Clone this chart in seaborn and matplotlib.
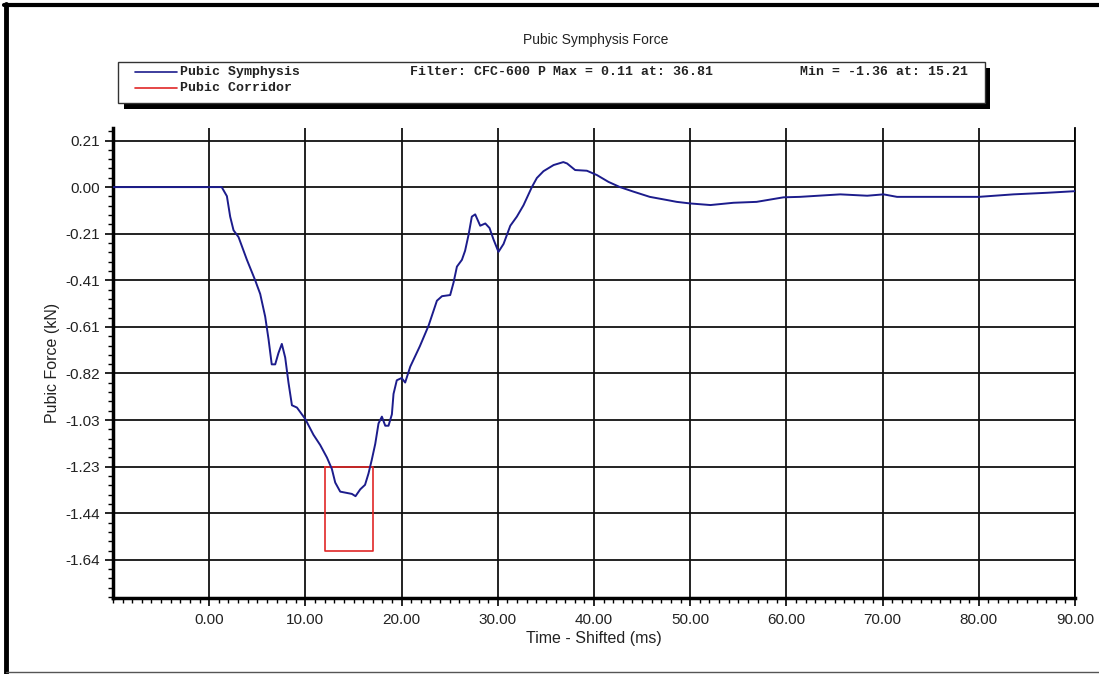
import numpy as np
import pandas as pd
import matplotlib
matplotlib.use('Agg')
import matplotlib.pyplot as plt
from matplotlib.lines import Line2D
from matplotlib.patches import Rectangle
from matplotlib.ticker import MultipleLocator, FixedLocator
import seaborn as sns

# data
time_ms = [-10, 1.3, 1.84, 2.18, 2.53, 3.05, 3.92, 4.78, 5.3, 5.82, 6.17, 6.5, 6.86, 7.2,
           7.55, 7.9, 8.24, 8.6, 9.12, 9.98, 10.84, 11.54, 12.24, 12.75, 13.1, 13.62,
           14.83, 15.21, 15.7, 16.2, 16.56, 16.9, 17.26, 17.6, 17.95, 18.3, 18.64, 18.99,
           19.16, 19.5, 20.0, 20.37, 20.9, 21.9, 22.8, 23.67, 24.2, 25.05, 25.4, 25.75,
           26.27, 26.6, 26.96, 27.3, 27.65, 28.17, 28.7, 29.14, 29.55, 30.07, 30.6, 31.3,
           31.98, 32.67, 33.54, 34.06, 34.75, 35.8, 36.81, 37.2, 38.04, 39.26, 40.3, 41.5,
           42.7, 44.1, 45.8, 47.6, 48.6, 50.0, 52.1, 54.5, 56.9, 59.7, 61.4, 65.6, 68.4,
           70.1, 71.5, 80.0, 83.6, 87.1, 90.0]
force_kN = [0, 0, -0.04, -0.13, -0.19, -0.22, -0.32, -0.41, -0.47, -0.57, -0.67, -0.78,
            -0.78, -0.73, -0.69, -0.75, -0.86, -0.96, -0.97, -1.02, -1.09, -1.135, -1.19,
            -1.24, -1.30, -1.34, -1.35, -1.36, -1.33, -1.31, -1.26, -1.20, -1.13, -1.04,
            -1.01, -1.05, -1.05, -1.00, -0.91, -0.85, -0.84, -0.86, -0.79, -0.70, -0.61,
            -0.50, -0.48, -0.475, -0.42, -0.35, -0.32, -0.28, -0.21, -0.13, -0.12, -0.17,
            -0.16, -0.18, -0.23, -0.285, -0.25, -0.17, -0.13, -0.08, 0.0, 0.04, 0.07,
            0.097, 0.11, 0.104, 0.075, 0.072, 0.053, 0.023, 0.0, -0.02, -0.043, -0.057,
            -0.065, -0.072, -0.079, -0.069, -0.065, -0.045, -0.043, -0.032, -0.038,
            -0.032, -0.043, -0.043, -0.032, -0.025, -0.018]

# pubic corridor box
corridor_t = [12.0, 17.0, 17.0, 12.0, 12.0]
corridor_f = [-1.23, -1.23, -1.60, -1.60, -1.23]

x_ticks = [0, 10, 20, 30, 40, 50, 60, 70, 80, 90]
x_labels = ['0.00', '10.00', '20.00', '30.00', '40.00', '50.00', '60.00', '70.00', '80.00', '90.00']
y_ticks = [0.205, 0.0, -0.205, -0.41, -0.615, -0.82, -1.025, -1.23, -1.435, -1.64]
y_labels = ['0.21', '0.00', '-0.21', '-0.41', '-0.61', '-0.82', '-1.03', '-1.23', '-1.44', '-1.64']

sns.set_style('white')
plt.rcParams['font.family'] = ['Liberation Sans', 'DejaVu Sans']

W, H = 1099, 674
fig = plt.figure(figsize=(W / 100, H / 100), dpi=100)
ax = fig.add_axes([113 / W, 1 - 598 / H, (1075 - 113) / W, (598 - 128) / H])

curve = pd.DataFrame({'t': time_ms, 'f': force_kN})
box = pd.DataFrame({'t': corridor_t, 'f': corridor_f})
sns.lineplot(data=curve, x='t', y='f', sort=False, estimator=None, color='#1c1c8c',
             linewidth=1.4, ax=ax, zorder=4)
sns.lineplot(data=box, x='t', y='f', sort=False, estimator=None, color='#e02828',
             linewidth=1.2, ax=ax, zorder=3)

ax.set_xlim(-10, 90)
ax.set_ylim(-1.808, 0.26)
ax.xaxis.set_major_locator(FixedLocator(x_ticks))
ax.set_xticklabels(x_labels)
ax.xaxis.set_minor_locator(MultipleLocator(1))
ax.yaxis.set_major_locator(FixedLocator(y_ticks))
ax.set_yticklabels(y_labels)
ax.yaxis.set_minor_locator(MultipleLocator(0.041))
ax.tick_params(axis='both', which='major', direction='out', length=6, width=1.2,
               labelsize=11, color='black', labelcolor='#222222',
               bottom=True, left=True)
ax.tick_params(axis='both', which='minor', direction='out', length=3.5, width=1.0,
               color='black', bottom=True, left=True)
ax.tick_params(axis='x', which='major', pad=5)
ax.grid(True, which='major', color='#111111', linewidth=1.3)
ax.spines['top'].set_visible(False)
ax.spines['left'].set_linewidth(2.5)
ax.spines['bottom'].set_linewidth(2.5)
ax.spines['right'].set_linewidth(1.3)
for s in ['left', 'bottom', 'right']:
    ax.spines[s].set_color('black')

ax.set_xlabel('Time - Shifted (ms)', fontsize=11.5, color='#222222', labelpad=3)
ax.set_ylabel('Pubic Force (kN)', fontsize=11.5, color='#222222', labelpad=4)

# title
fig.text(596 / W, 1 - 40 / H, 'Pubic Symphysis Force', ha='center', va='center',
         fontsize=10, color='#222222')

# legend box with black drop shadow
def px(x, y):
    return x / W, 1 - y / H

fig.add_artist(Rectangle(px(124, 109), (990 - 124) / W, (109 - 68) / H,
                         transform=fig.transFigure, facecolor='black', edgecolor='none'))
fig.add_artist(Rectangle(px(118, 103), (985 - 118) / W, (103 - 62) / H,
                         transform=fig.transFigure, facecolor='white', edgecolor='#333333',
                         linewidth=1))
mono = {'family': ['Liberation Mono', 'DejaVu Sans Mono'], 'size': 9.5, 'weight': 'bold',
        'color': '#222222'}
for yy, col, lab in [(72, '#1c1c8c', 'Pubic Symphysis'), (88, '#e02828', 'Pubic Corridor')]:
    fig.add_artist(Line2D([135 / W, 177 / W], [1 - yy / H, 1 - yy / H], color=col,
                          linewidth=1.2, transform=fig.transFigure))
    fig.text(*px(180, yy), lab, ha='left', va='center', **mono)
fig.text(*px(410, 72), 'Filter: CFC-600 P', ha='left', va='center', **mono)
fig.text(*px(553, 72), 'Max = 0.11 at: 36.81', ha='left', va='center', **mono)
fig.text(*px(800, 72), 'Min = -1.36 at: 15.21', ha='left', va='center', **mono)

# outer frame: thick left/top, thin bottom
fig.add_artist(Line2D([6 / W, 6 / W], [1 - 4 / H, 0], color='black', linewidth=3.5,
                      transform=fig.transFigure))
fig.add_artist(Line2D([4 / W, 1], [1 - 5 / H, 1 - 5 / H], color='black', linewidth=3,
                      transform=fig.transFigure))
fig.add_artist(Line2D([6 / W, 1], [1 - 672 / H, 1 - 672 / H], color='#555555', linewidth=1,
                      transform=fig.transFigure))

fig.savefig('out.png', dpi=100, facecolor='white')
